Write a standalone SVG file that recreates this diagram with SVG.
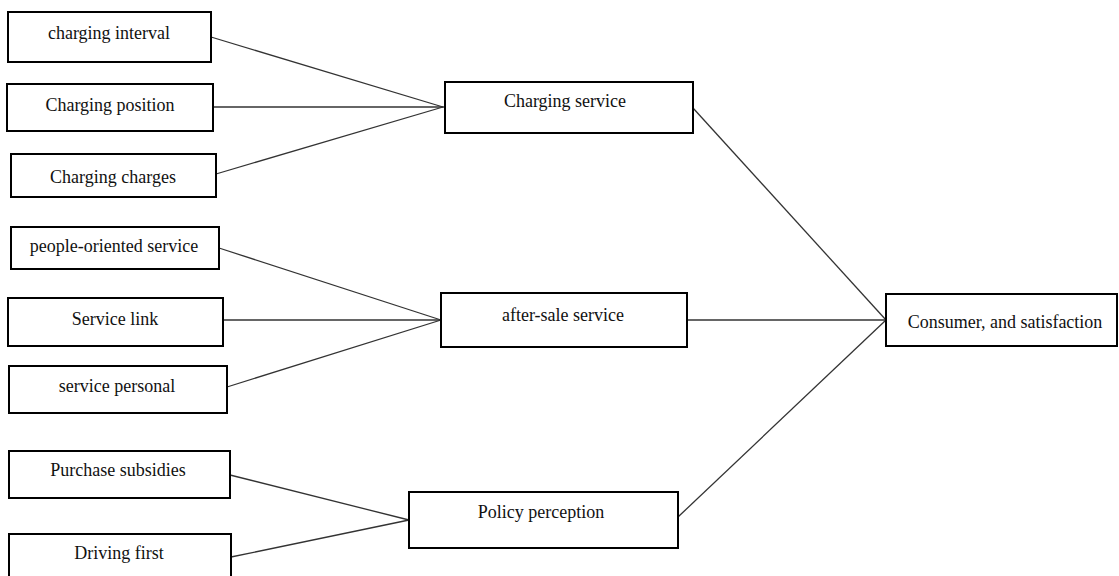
<svg xmlns="http://www.w3.org/2000/svg" width="1119" height="576" viewBox="0 0 1119 576">
<style>
.box{fill:#fff;stroke:#000;stroke-width:2}
.lbl{font-family:"Liberation Serif","Times New Roman",serif;font-size:18px;fill:#111;text-anchor:middle;dominant-baseline:central}
.con line{stroke:#333;stroke-width:1.3}
</style>
<rect width="1119" height="576" fill="#fff"/>
<g class="con">
<line x1="211" y1="37" x2="443" y2="107"/>
<line x1="213" y1="107" x2="445" y2="107"/>
<line x1="216" y1="174" x2="443" y2="107"/>
<line x1="219" y1="248" x2="441" y2="320"/>
<line x1="223" y1="320" x2="441" y2="320"/>
<line x1="227" y1="387" x2="441" y2="320"/>
<line x1="230" y1="475" x2="409" y2="520"/>
<line x1="231" y1="557" x2="409" y2="520"/>
<line x1="693" y1="108" x2="886" y2="320"/>
<line x1="687" y1="320" x2="886" y2="320"/>
<line x1="678" y1="517" x2="886" y2="320"/>
</g>
<g id="n-charging-interval"><rect class="box" x="8" y="12" width="203" height="50"/><text class="lbl" x="109" y="33">charging interval</text></g>
<g id="n-charging-position"><rect class="box" x="7" y="84" width="206" height="47"/><text class="lbl" x="110" y="105">Charging position</text></g>
<g id="n-charging-charges"><rect class="box" x="11" y="154" width="205" height="43"/><text class="lbl" x="113" y="177">Charging charges</text></g>
<g id="n-people-oriented"><rect class="box" x="11" y="227" width="208" height="42"/><text class="lbl" x="114" y="246">people-oriented service</text></g>
<g id="n-service-link"><rect class="box" x="8" y="298" width="215" height="48"/><text class="lbl" x="115" y="319">Service link</text></g>
<g id="n-service-personal"><rect class="box" x="9" y="366" width="218" height="47"/><text class="lbl" x="117" y="386">service personal</text></g>
<g id="n-purchase-subsidies"><rect class="box" x="9" y="451" width="221" height="47"/><text class="lbl" x="118" y="470">Purchase subsidies</text></g>
<g id="n-driving-first"><rect class="box" x="9" y="534" width="222" height="50"/><text class="lbl" x="119" y="553">Driving first</text></g>
<g id="n-charging-service"><rect class="box" x="445" y="82" width="248" height="51"/><text class="lbl" x="565" y="101">Charging service</text></g>
<g id="n-after-sale"><rect class="box" x="441" y="293" width="246" height="54"/><text class="lbl" x="563" y="315">after-sale service</text></g>
<g id="n-policy"><rect class="box" x="409" y="492" width="269" height="56"/><text class="lbl" x="541" y="512">Policy perception</text></g>
<g id="n-consumer"><rect class="box" x="886" y="294" width="231" height="52"/><text class="lbl" x="1005" y="322">Consumer, and satisfaction</text></g>
</svg>
